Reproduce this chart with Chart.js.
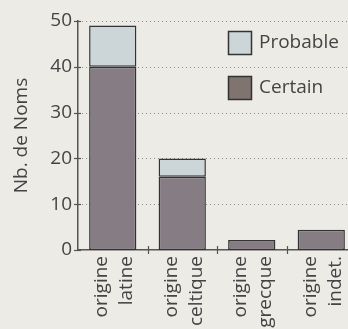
<!DOCTYPE html>
<html>
<head>
<meta charset="utf-8">
<script src="https://cdn.jsdelivr.net/npm/chart.js@4.4.1/dist/chart.umd.min.js"></script>
<style>
html,body{margin:0;padding:0;background:#ecebe6;overflow:hidden;}
#wrap{width:356px;height:329px;position:relative;}
</style>
</head>
<body>
<div id="wrap"><canvas id="c" width="356" height="329"></canvas></div>
<script>
const categories = [["origine","latine"],["origine","celtique"],["origine","grecque"],["origine","indet."]];
const certainValues = [40, 16, 2.2, 4.4];
const probableValues = [9, 4, null, null];
const yTicks = [0, 10, 20, 30, 40, 50];
const yTitle = "Nb. de Noms";
const seriesNames = ["Certain", "Probable"];

const FONT = "'Open Sans', Lato, sans-serif";
const TXT = "#444";
const AXIS = "#555";

const dottedGrid = {
  id: 'dottedGrid',
  beforeDatasetsDraw(chart) {
    const ctx = chart.ctx, y = chart.scales.y, x = chart.scales.x;
    ctx.save();
    ctx.strokeStyle = "#8c8c8c"; ctx.lineWidth = 1;
    ctx.setLineDash([1, 3]);
    yTicks.forEach(v => {
      if (v === 0) return;
      const py = Math.round(y.getPixelForValue(v)) + 0.5;
      ctx.beginPath(); ctx.moveTo(x.left + 4, py); ctx.lineTo(chart.width, py); ctx.stroke();
    });
    ctx.restore();
  }
};

const crossTicks = {
  id: 'crossTicks',
  afterDraw(chart) {
    const ctx = chart.ctx, y = chart.scales.y, x = chart.scales.x;
    ctx.save();
    ctx.strokeStyle = AXIS; ctx.lineWidth = 1.2;
    yTicks.forEach(v => {
      const py = Math.round(y.getPixelForValue(v)) + 0.5;
      ctx.beginPath(); ctx.moveTo(x.left - 4, py); ctx.lineTo(x.left + 3, py); ctx.stroke();
    });
    for (let i = 1; i < categories.length; i++) {
      const px = Math.round((x.getPixelForValue(i - 1) + x.getPixelForValue(i)) / 2) + 0.5;
      ctx.beginPath(); ctx.moveTo(px, y.bottom - 4); ctx.lineTo(px, y.bottom + 4); ctx.stroke();
    }
    ctx.restore();
  }
};

const customLegend = {
  id: 'customLegend',
  afterDraw(chart) {
    const ctx = chart.ctx;
    const ds = chart.data.datasets.slice().reverse();
    const x0 = 228, ys = [31, 76];
    ctx.save();
    ds.forEach((d, i) => {
      const y0 = ys[i];
      ctx.fillStyle = d.legendColor || d.backgroundColor;
      ctx.fillRect(x0, y0, 24, 24);
      ctx.strokeStyle = "#333"; ctx.lineWidth = 1.5;
      ctx.strokeRect(x0 + 0.5, y0 + 0.5, 23, 23);
      ctx.fillStyle = TXT;
      ctx.font = "19px " + FONT;
      ctx.textBaseline = "middle";
      ctx.fillText(d.label, x0 + 31, y0 + 12);
    });
    ctx.restore();
  }
};

new Chart(document.getElementById('c'), {
  type: 'bar',
  data: {
    labels: categories,
    datasets: [
      { label: seriesNames[0], data: certainValues, backgroundColor: "#857c84", legendColor: "#7f7470", borderColor: "#333", borderWidth: 1.5, borderSkipped: false },
      { label: seriesNames[1], data: probableValues, backgroundColor: "#ccd6d8", borderColor: "#333", borderWidth: 1.5, borderSkipped: false }
    ]
  },
  options: {
    responsive: false,
    animation: false,
    layout: { padding: { top: 21, left: 0, right: 0, bottom: 0 } },
    categoryPercentage: 1,
    barPercentage: 0.68,
    plugins: { legend: { display: false }, tooltip: { enabled: false } },
    scales: {
      x: {
        stacked: true,
        afterFit(s) { s.height = 79; s.paddingRight = 0; s.paddingLeft = 0; },
        grid: { display: false, drawTicks: false },
        border: { display: true, color: AXIS, width: 1.5 },
        ticks: { maxRotation: 90, minRotation: 90, padding: 6, labelOffset: -11, color: TXT, font: { family: FONT, size: 19, lineHeight: 1.32 } }
      },
      y: {
        stacked: true,
        min: 0, max: 50,
        afterFit(s) { s.width = 78; },
        afterBuildTicks(s) { s.ticks = yTicks.map(v => ({ value: v })); },
        grid: { display: false, drawTicks: false },
        border: { display: true, color: AXIS, width: 1.5 },
        ticks: { padding: 6, color: TXT, font: { family: FONT, size: 19 } },
        title: { display: true, text: yTitle, color: TXT, font: { family: FONT, size: 19 }, padding: { top: 10, bottom: 0 } }
      }
    }
  },
  plugins: [dottedGrid, crossTicks, customLegend]
});
</script>
</body>
</html>
